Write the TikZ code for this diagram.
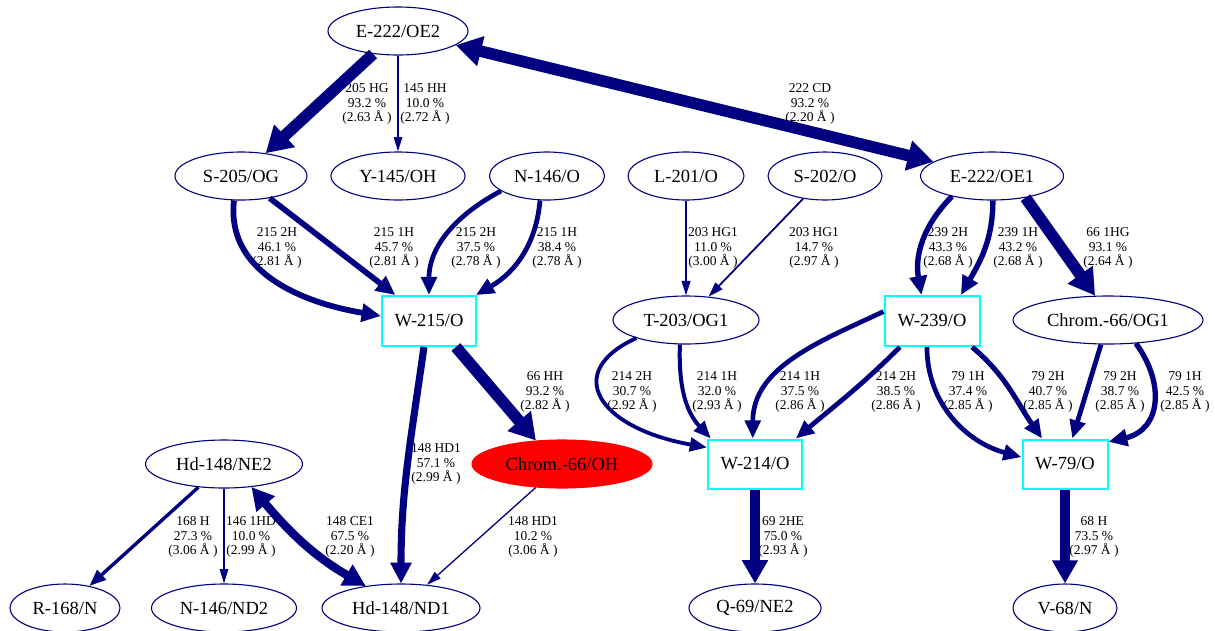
\documentclass[tikz,border=0pt]{standalone}
\usepackage{fontspec}
\setmainfont{Liberation Serif}
\usetikzlibrary{shapes.geometric,arrows.meta}
\definecolor{navyc}{RGB}{0,0,128}
\definecolor{cyanc}{RGB}{0,255,255}
\begin{document}
\begin{tikzpicture}[x=1pt,y=1pt,
 el/.style={ellipse, draw=navyc, line width=1.1pt, minimum height=48pt, inner sep=0pt, font=\fontsize{18.5}{20}\selectfont},
 bx/.style={rectangle, draw=cyanc, fill=white, line width=2pt, minimum width=#1, minimum height=50pt, inner sep=0pt, font=\fontsize{18.5}{20}\selectfont},
 lab/.style={align=center, font=\fontsize{13.5}{14.7}\selectfont, inner sep=0pt},
 ed/.style={draw=navyc, line width=#1, -{Triangle[length=13pt 1.1, width=6pt 2]}},
 edb/.style={draw=navyc, line width=#1, {Triangle[length=13pt 1.1, width=6pt 2]}-{Triangle[length=13pt 1.1, width=6pt 2]}},
]
\useasboundingbox (0,0) rectangle (1215,-630);
% nodes
\node[el, minimum width=140pt] (e2) at (398,-31) {E-222/OE2};
\node[el, minimum width=132pt] (s205) at (241,-176) {S-205/OG};
\node[el, minimum width=134pt] (y145) at (398,-176) {Y-145/OH};
\node[el, minimum width=115pt] (n146) at (547,-176) {N-146/O};
\node[el, minimum width=116pt] (l201) at (686,-176) {L-201/O};
\node[el, minimum width=114pt] (s202) at (825,-176) {S-202/O};
\node[el, minimum width=143pt] (e1) at (992,-176) {E-222/OE1};
\node[bx=94pt] (w215) at (429,-321) {W-215/O};
\node[el, minimum width=146pt] (t203) at (686,-320) {T-203/OG1};
\node[bx=95pt] (w239) at (932,-321) {W-239/O};
\node[el, minimum width=190pt] (c66og1) at (1108,-320) {Chrom.-66/OG1};
\node[el, minimum width=157pt] (hd148ne2) at (224,-464) {Hd-148/NE2};
\node[el, minimum width=180pt, fill=red, draw=red] (c66oh) at (562,-464) {Chrom.-66/OH};
\node[bx=94pt, minimum height=49pt] (w214) at (755,-464) {W-214/O};
\node[bx=85pt, minimum height=49pt] (w79) at (1065,-464) {W-79/O};
\node[el, minimum width=110pt] (r168) at (65,-608) {R-168/N};
\node[el, minimum width=145pt] (n146nd2) at (224,-608) {N-146/ND2};
\node[el, minimum width=158pt] (hd148nd1) at (401,-608) {Hd-148/ND1};
\node[el, minimum width=132pt] (q69) at (755,-608) {Q-69/NE2};
\node[el, minimum width=104pt] (v68) at (1065,-608) {V-68/N};
% labels
\node[lab] (l1) at (367,-104) {205 HG\\93.2 \%\\(2.63 Å )};
\node[lab] (l2) at (425,-104) {145 HH\\10.0 \%\\(2.72 Å )};
\node[lab] (l3) at (810,-104) {222 CD\\93.2 \%\\(2.20 Å )};
\node[lab] (l4) at (277,-248) {215 2H\\46.1 \%\\(2.81 Å )};
\node[lab] (l5) at (394,-248) {215 1H\\45.7 \%\\(2.81 Å )};
\node[lab] (l6) at (476,-248) {215 2H\\37.5 \%\\(2.78 Å )};
\node[lab] (l7) at (557,-248) {215 1H\\38.4 \%\\(2.78 Å )};
\node[lab] (l8) at (713,-248) {203 HG1\\11.0 \%\\(3.00 Å )};
\node[lab] (l9) at (814,-248) {203 HG1\\14.7 \%\\(2.97 Å )};
\node[lab] (l10) at (948,-248) {239 2H\\43.3 \%\\(2.68 Å )};
\node[lab] (l11) at (1018,-248) {239 1H\\43.2 \%\\(2.68 Å )};
\node[lab] (l12) at (1108,-248) {66 1HG\\93.1 \%\\(2.64 Å )};
\node[lab] (l13) at (545,-392) {66 HH\\93.2 \%\\(2.82 Å )};
\node[lab] (l14) at (436,-464) {148 HD1\\57.1 \%\\(2.99 Å )};
\node[lab] (l15) at (632,-392) {214 2H\\30.7 \%\\(2.92 Å )};
\node[lab] (l16) at (717,-392) {214 1H\\32.0 \%\\(2.93 Å )};
\node[lab] (l17) at (800,-392) {214 1H\\37.5 \%\\(2.86 Å )};
\node[lab] (l18) at (896,-392) {214 2H\\38.5 \%\\(2.86 Å )};
\node[lab] (l19) at (968,-392) {79 1H\\37.4 \%\\(2.85 Å )};
\node[lab] (l20) at (1048,-392) {79 2H\\40.7 \%\\(2.85 Å )};
\node[lab] (l21) at (1120,-392) {79 2H\\38.7 \%\\(2.85 Å )};
\node[lab] (l22) at (1185,-392) {79 1H\\42.5 \%\\(2.85 Å )};
\node[lab] (l23) at (193,-537) {168 H\\27.3 \%\\(3.06 Å )};
\node[lab] (l24) at (251,-537) {146 1HD\\10.0 \%\\(2.99 Å )};
\node[lab] (l25) at (350,-537) {148 CE1\\67.5 \%\\(2.20 Å )};
\node[lab] (l26) at (533,-537) {148 HD1\\10.2 \%\\(3.06 Å )};
\node[lab] (l27) at (783,-537) {69 2HE\\75.0 \%\\(2.93 Å )};
\node[lab] (l28) at (1094,-537) {68 H\\73.5 \%\\(2.97 Å )};
% edges
\draw[ed=11.6pt] (e2) -- (s205);
\draw[ed=1.25pt] (e2) -- (y145);
\draw[edb=11.6pt] (e2) -- (e1);
\draw[ed=5.8pt] (s205.-106) .. controls (226,-270) and (298,-302) .. (w215.174);
\draw[ed=5.7pt] (s205) -- (w215);
\draw[ed=4.7pt] (n146.198) to[out=208,in=90] (w215.north);
\draw[ed=4.8pt] (n146.-106) to[out=-95,in=30] (w215.29);
\draw[ed=1.4pt] (l201) -- (t203);
\draw[ed=1.8pt] (s202) -- (t203);
\draw[ed=5.4pt] (e1.207) to[out=225,in=100] (w239.112);
\draw[ed=5.4pt] (e1.-88) to[out=-90,in=60] (w239.42);
\draw[ed=11.6pt] (e1.-33) -- (c66og1.118);
\draw[ed=11.6pt] (w215.-44) -- (c66oh.138);
\draw[ed=7.1pt] (w215.-101) to[out=-98,in=90] (hd148nd1.90);
\draw[ed=3.8pt] (t203.200) .. controls (562,-372) and (598,-428) .. (w214.161);
\draw[ed=4pt] (t203.-104) to[out=-92,in=133] (w214.150);
\draw[ed=4.7pt] (w239.169) to[out=205,in=90] (w214.95);
\draw[ed=4.8pt] (w239.-141) to[out=225,in=40] (w214.32);
\draw[ed=4.7pt] (w239.-101) to[out=-90,in=165] (w79.171);
\draw[ed=5.1pt] (w239.-33) to[out=-40,in=125] (w79.132);
\draw[ed=4.8pt] (c66og1.-106) -- (w79.74);
\draw[ed=5.3pt] (c66og1.-40) .. controls (1166,-385) and (1160,-430) .. (w79.27);
\draw[ed=3.4pt] (hd148ne2) -- (r168);
\draw[ed=1.25pt] (hd148ne2) -- (n146nd2);
\draw[edb=8.4pt] (hd148ne2.-40) to[out=-50,in=150] (hd148nd1.148);
\draw[ed=1.3pt] (c66oh) -- (hd148nd1);
\draw[ed=9.4pt] (w214) -- (q69);
\draw[ed=9.2pt] (w79) -- (v68);
\end{tikzpicture}
\end{document}
